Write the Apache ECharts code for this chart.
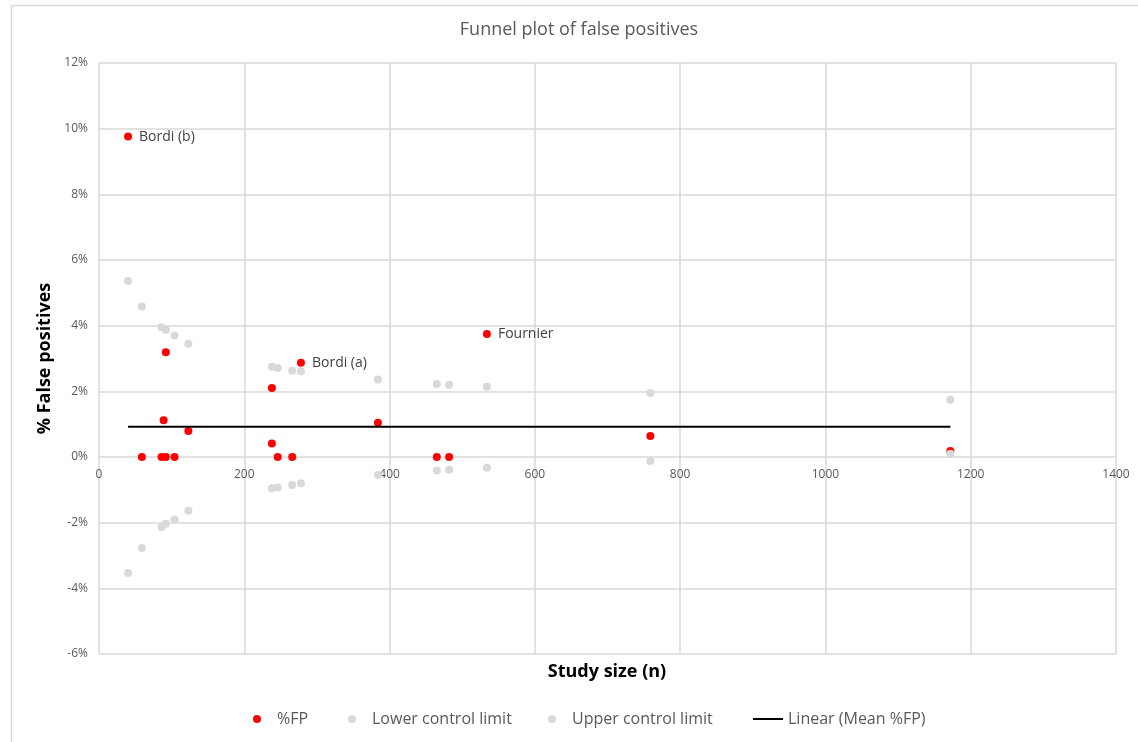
<!DOCTYPE html>
<html>
<head>
    <meta charset="utf-8">
    <title>Funnel plot of false positives</title>
    <script src="https://cdn.jsdelivr.net/npm/echarts@6/dist/echarts.min.js"></script>
    <style>
        html, body {margin: 0; padding: 0; background: #fff;}
        #main {width: 1138px; height: 742px;}
    </style>
</head>
<body>
<div id="main"></div>
<script type="text/javascript">
    // studies: size n and % false positives
    var studyN = [40, 59, 86, 89, 92, 92, 104, 123, 238, 238, 246, 266, 278, 384, 465, 482, 534, 759, 1172];
    var fpPct = [9.76, 0, 0, 1.12, 3.19, 0, 0, 0.79, 2.10, 0.41, 0, 0, 2.87, 1.04, 0, 0, 3.75, 0.64, 0.18];
    var fpNames = ['Bordi (b)', '', '', '', '', '', '', '', '', '', '', '', 'Bordi (a)', '', '', '', 'Fournier', '', ''];

    // control limits, one per distinct study size
    var limitN = [40, 59, 86, 92, 104, 123, 238, 246, 266, 278, 384, 465, 482, 534, 759, 1172];
    var upperLimit = [5.36, 4.58, 3.95, 3.87, 3.70, 3.45, 2.75, 2.71, 2.63, 2.61, 2.36, 2.22, 2.20, 2.14, 1.95, 1.74];
    var lowerLimit = [-3.53, -2.77, -2.13, -2.03, -1.90, -1.64, -0.95, -0.93, -0.85, -0.80, -0.54, -0.41, -0.39, -0.33, -0.12, 0.10];

    var meanFp = 0.92;

    var xTicks = {min: 0, max: 1400, step: 200};
    var yTicks = {min: -6, max: 12, step: 2};

    var font = '"Open Sans", sans-serif';
    var grey = '#d9d9d9';
    var textGrey = '#595959';

    var fpData = [];
    for (var i = 0; i < studyN.length; i++) {
        var item = {value: [studyN[i], fpPct[i]]};
        if (fpNames[i]) {
            item.label = {show: true, formatter: fpNames[i]};
        }
        fpData.push(item);
    }
    var lowerData = [], upperData = [];
    for (var j = 0; j < limitN.length; j++) {
        lowerData.push([limitN[j], lowerLimit[j]]);
        upperData.push([limitN[j], upperLimit[j]]);
    }
    var nMin = Math.min.apply(null, studyN);
    var nMax = Math.max.apply(null, studyN);
    var meanData = [[nMin, meanFp], [nMax, meanFp]];

    // plot box: top 63, bottom edge at 654; the 0% line sits at 63 + 591 * 12/18
    var plotTop = 63, plotBottom = 88, plotH = 742 - plotTop - plotBottom;
    var zeroY = plotTop + plotH * yTicks.max / (yTicks.max - yTicks.min);

    function oneLegend(name, left, icon) {
        return {
            left: left,
            top: 706,
            itemWidth: 30,
            itemHeight: 8,
            textStyle: {fontFamily: font, fontSize: 16, color: textGrey},
            data: [{name: name, icon: icon}]
        };
    }

    var myChart = echarts.init(document.getElementById('main'));
    var option = {
        animation: false,
        textStyle: {fontFamily: font},
        title: [{
            text: 'Funnel plot of false positives',
            left: 574,
            textAlign: 'center',
            top: 16,
            textStyle: {fontFamily: font, fontSize: 18, fontWeight: 'normal', color: textGrey}
        }, {
            text: 'Study size (n)',
            left: 602,
            textAlign: 'center',
            top: 658,
            textStyle: {fontFamily: font, fontSize: 18, fontWeight: 'bold', color: '#000'}
        }],
        graphic: [{
            type: 'rect',
            shape: {x: 11.5, y: 5.5, width: 1300, height: 900},
            style: {fill: null, stroke: grey, lineWidth: 1.5},
            silent: true,
            z: -10
        }],
        grid: [
            {left: 99, right: 22, top: plotTop, bottom: plotBottom},
            // second grid ends on the 0% line, only to carry the x tick labels there
            {left: 99, right: 22, top: plotTop, bottom: 742 - zeroY}
        ],
        legend: [
            oneLegend('%FP', 248, 'circle'),
            oneLegend('Lower control limit', 343, 'circle'),
            oneLegend('Upper control limit', 543, 'circle'),
            oneLegend('Linear (Mean %FP)', 748, 'path://M0,0 L0,0 M0,3 L30,3 L30,5 L0,5 Z M30,8 L30,8')
        ],
        xAxis: [{
            type: 'value',
            gridIndex: 0,
            min: xTicks.min,
            max: xTicks.max,
            interval: xTicks.step,
            axisLine: {show: false},
            axisTick: {show: false},
            axisLabel: {show: false},
            splitLine: {show: true, lineStyle: {color: grey, width: 1.5}}
        }, {
            type: 'value',
            gridIndex: 1,
            min: xTicks.min,
            max: xTicks.max,
            interval: xTicks.step,
            axisLine: {show: false},
            axisTick: {show: false},
            axisLabel: {
                color: textGrey, fontSize: 12, margin: 12, fontFamily: font,
                formatter: function (v) { return String(v); }
            },
            splitLine: {show: false}
        }],
        yAxis: [{
            type: 'value',
            gridIndex: 0,
            min: yTicks.min,
            max: yTicks.max,
            interval: yTicks.step,
            axisLine: {show: false},
            axisTick: {show: false},
            axisLabel: {color: textGrey, fontSize: 12, margin: 11, formatter: '{value}%', fontFamily: font},
            splitLine: {show: true, lineStyle: {color: grey, width: 1.5}},
            name: '% False positives',
            nameLocation: 'middle',
            nameGap: 42,
            nameTextStyle: {fontFamily: font, fontSize: 18, fontWeight: 'bold', color: '#000'}
        }, {
            type: 'value',
            gridIndex: 1,
            min: 0,
            max: yTicks.max,
            show: false
        }],
        series: [
            {
                name: '%FP',
                type: 'scatter',
                symbolSize: 8,
                itemStyle: {color: '#ff0000', opacity: 1},
                label: {
                    show: false,
                    position: 'right',
                    distance: 7,
                    color: '#404040',
                    fontSize: 14,
                    fontFamily: font
                },
                z: 2,
                data: fpData
            },
            {
                name: 'Lower control limit',
                type: 'scatter',
                symbolSize: 8,
                itemStyle: {color: grey, opacity: 1},
                z: 3,
                data: lowerData
            },
            {
                name: 'Upper control limit',
                type: 'scatter',
                symbolSize: 8,
                itemStyle: {color: grey, opacity: 1},
                z: 3,
                data: upperData
            },
            {
                name: 'Linear (Mean %FP)',
                type: 'line',
                symbol: 'none',
                lineStyle: {color: '#000', width: 2},
                itemStyle: {color: '#000'},
                z: 4,
                data: meanData
            }
        ]
    };
    myChart.setOption(option);
</script>
</body>
</html>
